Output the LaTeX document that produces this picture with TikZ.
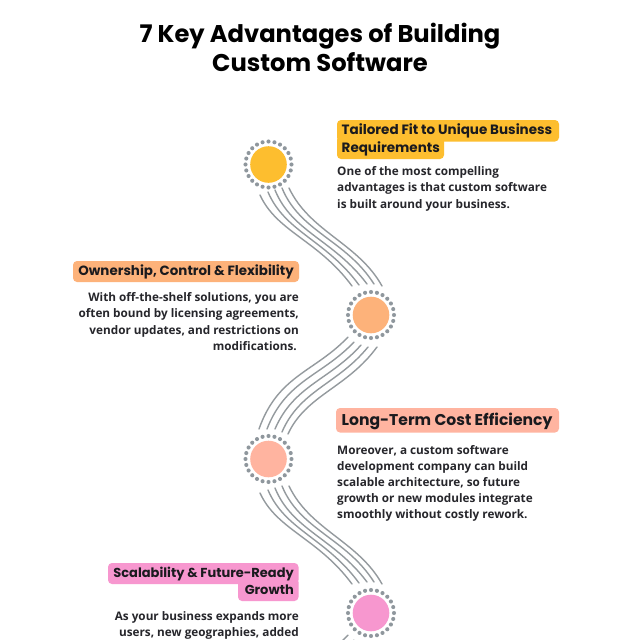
\documentclass[tikz,border=0pt]{standalone}
\usepackage{fontspec}
\setmainfont{Open Sans}
\newfontfamily\headfont{Poppins}
\definecolor{ink}{HTML}{1A1A1E}
\definecolor{bodyink}{HTML}{26262B}
\definecolor{ringgray}{HTML}{8F979D}
\definecolor{wavegray}{HTML}{949A9E}
\definecolor{cyellow}{HTML}{FDBE2F}
\definecolor{corange}{HTML}{FDB27A}
\definecolor{csalmon}{HTML}{FFB4A0}
\definecolor{cpink}{HTML}{F797CF}
\tikzset{x=1pt,y=-1pt,
  wave/.style={draw=wavegray,line width=1.4pt,line cap=round},
  disc/.style={circle,minimum size=36.6pt,inner sep=0pt},
  titletext/.style={font=\headfont\bfseries\fontsize{24.2}{28.5}\selectfont,text=black,align=center},
  tagbox/.style={rounded corners=4pt},
  tagtext/.style={font=\headfont\bfseries\fontsize{13.5}{17.7}\selectfont,text=ink,inner sep=0pt},
  bodyleft/.style={font=\bfseries\fontsize{11.75}{16.2}\selectfont,text=bodyink,align=left,anchor=north west,inner sep=0pt},
  bodyright/.style={font=\bfseries\fontsize{11.75}{16.2}\selectfont,text=bodyink,align=right,anchor=north east,inner sep=0pt}}
\newcommand{\ring}[1]{\foreach \a in {0,15,...,345}{\fill[ringgray] (#1)++(\a:23pt) circle (2.05pt);}}
\newcommand{\wavesA}[2]{\begin{scope}[shift={(#1,#2)}]
\draw[wave] (260,195) .. controls (277,232) and (318,240) .. (352,286);
\draw[wave] (268,192) .. controls (285,232) and (326,240) .. (359,285);
\draw[wave] (275,190) .. controls (292,232) and (334,240) .. (367,284);
\draw[wave] (282,188) .. controls (300,232) and (346,240) .. (374,284);
\draw[wave] (289,188) .. controls (310,232) and (358,243) .. (382,286);
\end{scope}}
\newcommand{\wavesB}[2]{\begin{scope}[shift={(#1,#2)}]
\draw[wave] (348,337) .. controls (315,372) and (278,375) .. (259,429);
\draw[wave] (354,342) .. controls (322,376) and (286,380) .. (267,429);
\draw[wave] (361,345) .. controls (330,380) and (294,385) .. (275,429);
\draw[wave] (368,347) .. controls (338,384) and (300,390) .. (282,432);
\draw[wave] (377,347) .. controls (347,388) and (306,395) .. (288,434);
\end{scope}}
\begin{document}
\begin{tikzpicture}
\useasboundingbox (0,0) rectangle (640,640);
\clip (0,0) rectangle (640,640);
\fill[white] (0,0) rectangle (640,640);
\node[titletext] (title) at (320,47.5) {7 Key Advantages of Building\\Custom Software};
\wavesA{0}{0}
\wavesB{0}{0}
\wavesA{0}{298}
\wavesB{0}{298}
\node[disc,fill=cyellow] (c1) at (268.5,164.5) {};
\node[disc,fill=corange] (c2) at (371,315) {};
\node[disc,fill=csalmon] (c3) at (268.5,459) {};
\node[disc,fill=cpink] (c4) at (371,613) {};
\ring{c1.center}\ring{c2.center}\ring{c3.center}\ring{c4.center}
% tags
\fill[cyellow,tagbox] (337,120) rectangle (559,141.5);
\fill[cyellow,tagbox] (337,136) rectangle (444,159);
\node[tagtext,anchor=north west,align=left] (t1) at (341.5,123.5) {Tailored Fit to Unique Business\\Requirements};
\node[bodyleft] (b1) at (337,166.5) {One of the most compelling\\advantages is that custom software\\is built around your business.};
\fill[corange,tagbox] (73,261) rectangle (299,282);
\node[tagtext,anchor=east,font=\headfont\bfseries\fontsize{13.4}{17.7}\selectfont] (t2) at (294,271.5) {Ownership, Control \& Flexibility};
\node[bodyright] (b2) at (299,292.5) {With off-the-shelf solutions, you are\\often bound by licensing agreements,\\vendor updates, and restrictions on\\modifications.\hspace*{2pt}};
\fill[csalmon,tagbox] (336,408) rectangle (559,432.5);
\node[tagtext,anchor=west,font=\headfont\bfseries\fontsize{15.6}{18}\selectfont] (t3) at (341.5,421) {Long-Term Cost Efficiency};
\node[bodyleft] (b3) at (337,445) {Moreover, a custom software\\development company can build\\scalable architecture, so future\\growth or new modules integrate\\smoothly without costly rework.};
\fill[cpink,tagbox] (108,563) rectangle (298.5,584);
\fill[cpink,tagbox] (238,578) rectangle (298.5,601);
\node[tagtext,anchor=north east,align=right,font=\headfont\bfseries\fontsize{13}{17.7}\selectfont] (t4) at (294,566.5) {Scalability \& Future-Ready\\Growth};
\node[bodyright] (b4) at (299,611.5) {As your business expands more\\users, new geographies, added};
\end{tikzpicture}
\end{document}
